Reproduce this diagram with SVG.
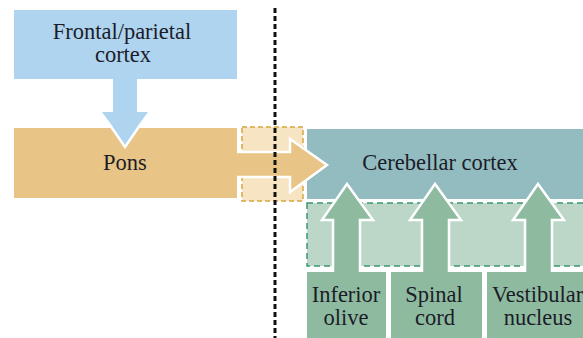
<svg xmlns="http://www.w3.org/2000/svg" width="583" height="338" viewBox="0 0 583 338">
<style>
text{font-family:"Liberation Serif","DejaVu Serif",serif;font-size:22.5px;fill:#1c1c28;text-anchor:middle}
.wo{stroke:#fff;stroke-width:2.5;stroke-linejoin:miter}
</style>
<rect width="583" height="338" fill="#fff"/>
<g id="cerebellar-cortex">
<rect x="307" y="129" width="280" height="70" fill="#93bcc1"/>
</g>
<g id="mossy-region">
<rect x="307" y="203" width="280" height="63" fill="#bcd7c8" stroke="#3a9870" stroke-width="1.5" stroke-dasharray="6 4"/>
</g>
<g id="pons-region">
<rect x="242" y="127" width="61" height="74" fill="#f6e4c3" stroke="#d6a640" stroke-width="1.5" stroke-dasharray="5 3"/>
</g>
<g id="connectors">
<polygon class="wo" points="230,152 290,152 290,139 327,165 290,192 290,177 230,177" fill="#e8c586"/>
<polygon class="wo" points="333,280 333,220 322,220 347,184 373,220 360,220 360,280" fill="#8ebba0"/>
<polygon class="wo" points="422,280 422,220 410,220 435,184 461,220 449,220 449,280" fill="#8ebba0"/>
<polygon class="wo" points="525,280 525,220 513,220 538,184 564,220 552,220 552,280" fill="#8ebba0"/>
</g>
<g id="pons">
<rect x="14" y="128" width="223" height="70" fill="#e8c586"/>
<text x="125" y="170">Pons</text>
</g>
<g id="frontal-arrow">
<polygon class="wo" points="113,79 137,79 137,112 149,112 125,147 101,112 113,112" fill="#aed4f0"/>
<polygon points="98,111 152,111 152,127 98,127" fill="#fff"/>
<polygon points="113,79 137,79 137,112 148,112 137,127 113,127 102,112 113,112" fill="#aed4f0"/>
</g>
<g id="frontal-cortex">
<rect x="14" y="10" width="223" height="69" fill="#aed4f0"/>
<text x="122" y="39">Frontal/parietal</text>
<text x="123" y="62">cortex</text>
</g>
<g id="cerebellar-label">
<text x="440" y="170">Cerebellar cortex</text>
</g>
<g id="inferior-olive">
<rect x="307" y="272" width="79" height="66" fill="#8ebba0"/>
<text x="346" y="302">Inferior</text>
<text x="346" y="325">olive</text>
</g>
<g id="spinal-cord">
<rect x="391" y="272" width="91" height="66" fill="#8ebba0"/>
<text x="434" y="302">Spinal</text>
<text x="435" y="325">cord</text>
</g>
<g id="vestibular-nucleus">
<rect x="487" y="272" width="100" height="66" fill="#8ebba0"/>
<text x="492" y="302" style="text-anchor:start">Vestibular</text>
<text x="538" y="325">nucleus</text>
</g>
<line x1="275" y1="8" x2="275" y2="338" stroke="#111" stroke-width="3" stroke-dasharray="5 3"/>
</svg>
